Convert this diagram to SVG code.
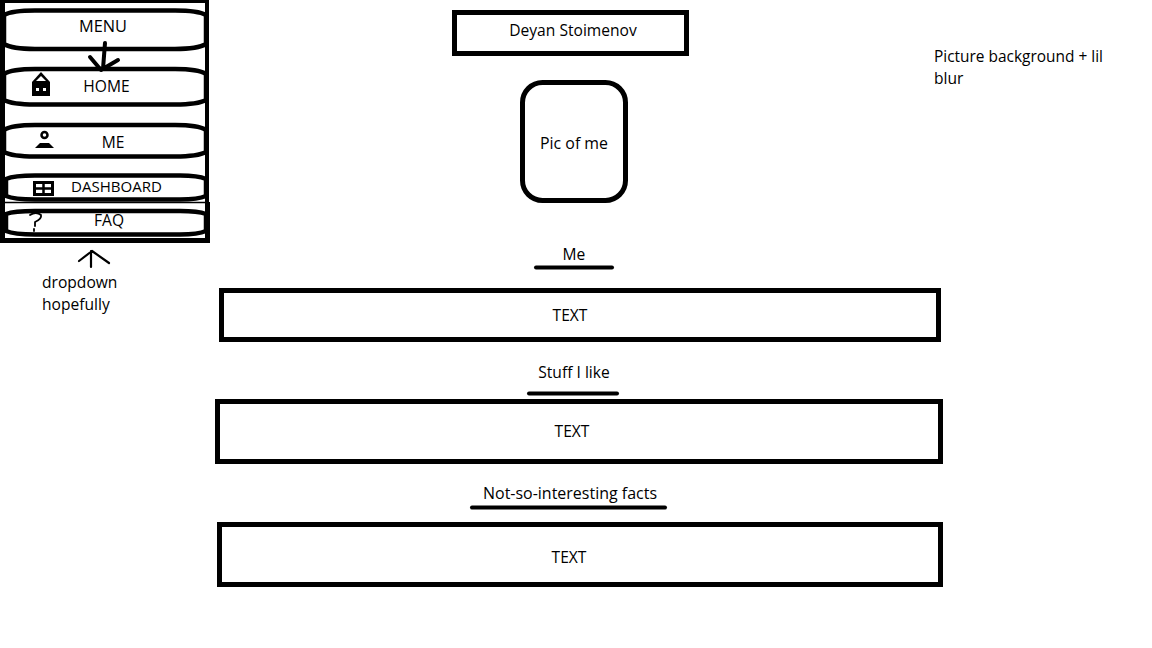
<svg xmlns="http://www.w3.org/2000/svg" width="1152" height="648" viewBox="0 0 1152 648">
<style>
text{font-family:"Open Sans","Noto Sans","Liberation Sans",sans-serif;font-size:15.6px;fill:#000;text-anchor:middle}
.l{text-anchor:start}
.box{fill:#fff;stroke:#000;stroke-width:5}
.pill{fill:#fff;stroke:#000;stroke-width:4.5}
.ln{fill:none;stroke:#000;stroke-linecap:round;stroke-linejoin:round}
</style>
<rect width="1152" height="648" fill="#fff"/>
<g id="sidebar">
<path fill="#000" fill-rule="evenodd" d="M0 0H209V202H210V243H0ZM5 3V238H205V3Z"/>
</g>
<g id="menu"><path class="pill" d="M4 15Q12 10.500 35 10.500H175Q198 10.500 206 15V44Q198 49 175 49H35Q12 49 4 44Z"/><text x="103" y="32" textLength="48" lengthAdjust="spacingAndGlyphs">MENU</text></g>
<g id="home"><path class="pill" d="M4 74Q12 69 35 69H175Q198 69 206 74V100Q198 104.500 175 104.500H35Q12 104.500 4 100Z"/><text x="106.500" y="92">HOME</text>
<path d="M32 82L41 72L50 82V96H32Z" fill="#000"/><path d="M36 81L41 76L46 81Z" fill="#fff"/><rect x="36" y="88" width="3" height="3" fill="#fff"/><rect x="43" y="88" width="3" height="3" fill="#fff"/></g>
<g id="me"><path class="pill" d="M4 130Q12 125 35 125H175Q198 125 206 130V152Q198 156.500 175 156.500H35Q12 156.500 4 152Z"/><text x="113" y="148">ME</text>
<circle cx="44.500" cy="135" r="3" fill="#fff" stroke="#000" stroke-width="2.500"/><path d="M35 148L40 143H49L54 148Z" fill="#000"/></g>
<g id="dashboard"><path class="pill" d="M6 179Q14 175.500 35 175.500H180Q198 175.500 206 179V196Q198 199.500 180 199.500H35Q14 199.500 6 196Z"/><text x="116.500" y="192" style="font-size:14px" textLength="91" lengthAdjust="spacingAndGlyphs">DASHBOARD</text>
<rect x="34.500" y="182.500" width="18" height="12" fill="#fff" stroke="#000" stroke-width="3"/><path d="M34 188.500H53M43.500 182V195" stroke="#000" stroke-width="2.500" fill="none"/></g>
<path id="divider" d="M5 202.500H205" stroke="#000" stroke-width="1.500" fill="none"/>
<g id="faq"><path class="pill" d="M6 214Q14 211 35 211H180Q198 211 206 214V231Q198 234.500 180 234.500H35Q14 234.500 6 231Z"/><text x="109" y="226">FAQ</text>
<path class="ln" stroke-width="1.800" d="M30 215Q36 211 41 215Q42 219 35 222V226M34 229V231"/></g>
<g id="connectors">
<path class="ln" stroke-width="4" d="M105 43L103 69M90 57L101 70L118 60"/>
<path class="ln" stroke-width="2.200" d="M79 261L92 251L109 263M91 251V267"/>
</g>
<g id="dropdown-note"><text class="l" x="42" y="288">dropdown</text><text class="l" x="42" y="310">hopefully</text></g>
<g id="name"><rect class="box" x="454.500" y="12.500" width="232" height="41"/><text x="573" y="36">Deyan Stoimenov</text></g>
<g id="picture"><rect class="box" x="522.500" y="82.500" width="103" height="118" rx="20"/><text x="574" y="149" textLength="68" lengthAdjust="spacingAndGlyphs">Pic of me</text></g>
<g id="background-note"><text class="l" x="934" y="62" textLength="169" lengthAdjust="spacingAndGlyphs">Picture background + lil</text><text class="l" x="934" y="84">blur</text></g>
<g id="heading-me"><text x="574" y="260">Me</text><path class="ln" stroke-width="4" d="M536 267.500H612"/></g>
<g id="text-me"><rect class="box" x="221.500" y="290.500" width="717" height="49"/><text x="570" y="321">TEXT</text></g>
<g id="heading-stuff"><text x="574" y="378">Stuff I like</text><path class="ln" stroke-width="4" d="M529 393.500H617"/></g>
<g id="text-stuff"><rect class="box" x="217.500" y="401.500" width="723" height="60"/><text x="572" y="437">TEXT</text></g>
<g id="heading-facts"><text x="570" y="499" textLength="174" lengthAdjust="spacingAndGlyphs">Not-so-interesting facts</text><path class="ln" stroke-width="4" d="M472 507.500H665"/></g>
<g id="text-facts"><rect class="box" x="219.500" y="524.500" width="721" height="60"/><text x="569" y="563">TEXT</text></g>
</svg>
